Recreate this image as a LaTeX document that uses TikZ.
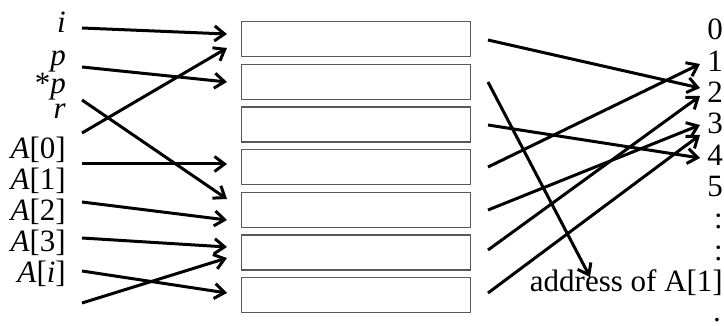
\documentclass[tikz,border=0pt]{standalone}
\usepackage{fontspec}
\setmainfont{Liberation Serif}
\usetikzlibrary{arrows.meta}
\begin{document}
\begin{tikzpicture}[x=1pt,y=-1pt,
  cell/.style={draw=black!65, line width=1.2pt, minimum width=229pt, minimum height=35pt, inner sep=0pt, anchor=north west},
  lab/.style={anchor=base east, inner sep=0pt, font=\fontsize{31}{33}\selectfont},
  arr/.style={line width=3pt, -{Straight Barb[length=10pt,width=15pt]}}
]
\useasboundingbox (0,0) rectangle (724,326);
% memory cells
\node[cell] (b1) at (241,21) {};
\node[cell] (b2) at (241,63.7) {};
\node[cell] (b3) at (241,106.4) {};
\node[cell] (b4) at (241,149.1) {};
\node[cell] (b5) at (241,191.8) {};
\node[cell] (b6) at (241,234.5) {};
\node[cell] (b7) at (241,277.2) {};
% left labels
\node[lab] (li) at (66,33) {\textit{i}};
\node[lab] (lp) at (66,66) {\textit{p}};
\node[lab] (lsp) at (66,94) {*\textit{p}};
\node[lab] (lr) at (66,119) {\textit{r}};
\node[lab] (la0) at (66,159) {\textit{A}[0]};
\node[lab] (la1) at (66,190) {\textit{A}[1]};
\node[lab] (la2) at (66,221) {\textit{A}[2]};
\node[lab] (la3) at (66,252) {\textit{A}[3]};
\node[lab] (lai) at (66,283) {\textit{A}[\textit{i}]};
% right column
\node[lab] (n0) at (723,40) {0};
\node[lab] (n1) at (723,71.3) {1};
\node[lab] (n2) at (723,102.6) {2};
\node[lab] (n3) at (723,133.9) {3};
\node[lab] (n4) at (723,165.2) {4};
\node[lab] (n5) at (723,196.5) {5};
\node[lab] (c1) at (723,229) {:};
\node[lab] (c2) at (723,260.5) {:};
\node[lab] (addr) at (723,292) {address of A[1]};
\node[lab] (c3) at (721,321) {.};
% left arrow ends
\coordinate (l1s) at (82,28);  \coordinate (l1e) at (227,34);
\coordinate (l2s) at (82,67);  \coordinate (l2e) at (227,82);
\coordinate (l3s) at (82,100); \coordinate (l3e) at (227,199);
\coordinate (l4s) at (82,133); \coordinate (l4e) at (227,48);
\coordinate (l5s) at (82,164); \coordinate (l5e) at (227,164);
\coordinate (l6s) at (82,202); \coordinate (l6e) at (227,220);
\coordinate (l7s) at (82,238); \coordinate (l7e) at (227,247);
\coordinate (l8s) at (82,271); \coordinate (l8e) at (227,293);
\coordinate (l9s) at (82,303); \coordinate (l9e) at (227,258);
\foreach \k in {1,...,9} \draw[arr] (l\k s) -- (l\k e);
% right arrow ends
\coordinate (r1s) at (488,40);  \coordinate (r1e) at (700,88);
\coordinate (r2s) at (488,82);  \coordinate (r2e) at (590,277);
\coordinate (r3s) at (488,125); \coordinate (r3e) at (700,158);
\coordinate (r4s) at (488,167); \coordinate (r4e) at (700,64);
\coordinate (r5s) at (488,210); \coordinate (r5e) at (700,125);
\coordinate (r6s) at (488,250); \coordinate (r6e) at (700,96);
\coordinate (r7s) at (488,293); \coordinate (r7e) at (700,135);
\foreach \k in {1,...,7} \draw[arr] (r\k s) -- (r\k e);
\end{tikzpicture}
\end{document}
